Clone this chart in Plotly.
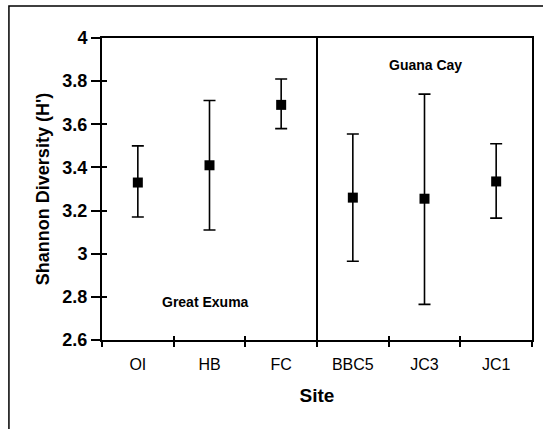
import plotly.graph_objects as go

sites = ["OI", "HB", "FC", "BBC5", "JC3", "JC1"]
mean_h = [3.33, 3.41, 3.69, 3.26, 3.255, 3.335]
upper_h = [3.50, 3.71, 3.81, 3.555, 3.74, 3.51]
lower_h = [3.17, 3.11, 3.58, 2.965, 2.765, 3.165]

err_plus = [u - m for u, m in zip(upper_h, mean_h)]
err_minus = [m - l for m, l in zip(mean_h, lower_h)]

y_ticks = [2.6, 2.8, 3.0, 3.2, 3.4, 3.6, 3.8, 4.0]
y_tick_text = ["2.6", "2.8", "3", "3.2", "3.4", "3.6", "3.8", "4"]
boundaries = [0.5, 1.5, 2.5, 3.5, 4.5]

fig = go.Figure()
fig.add_trace(go.Scatter(
    x=sites, y=mean_h, mode="markers",
    marker=dict(symbol="square", size=10, color="black"),
    error_y=dict(type="data", symmetric=False, array=err_plus, arrayminus=err_minus,
                 color="black", thickness=1.6, width=6),
    showlegend=False,
))
# invisible trace to carry the inner tick axes
fig.add_trace(go.Scatter(x=[-0.5, 5.5], y=[2.6, 4.0], xaxis="x2", yaxis="y2",
                         mode="markers", marker=dict(opacity=0), showlegend=False,
                         hoverinfo="skip"))

fig.update_layout(
    width=543, height=429,
    margin=dict(l=102, r=9, t=38, b=89),
    paper_bgcolor="white", plot_bgcolor="white",
    font=dict(family="Liberation Sans, Arial, sans-serif", color="black"),
    xaxis=dict(
        type="category", range=[-0.5, 5.5], tickson="boundaries",
        ticks="outside", ticklen=5, tickwidth=1.5, tickcolor="black",
        showline=True, linewidth=2, linecolor="black", mirror=True,
        showgrid=False, zeroline=False, ticklabelstandoff=9,
        tickfont=dict(size=16, family="Liberation Sans, Arial"),
        title=dict(text="<b>Site</b>", font=dict(size=19), standoff=16),
    ),
    xaxis2=dict(
        overlaying="x", range=[-0.5, 5.5], tickvals=boundaries,
        ticks="inside", ticklen=4, tickwidth=1.5, tickcolor="black",
        showticklabels=False, showgrid=False, zeroline=False, showline=False,
    ),
    yaxis=dict(
        range=[2.6, 4.0], tickvals=y_ticks,
        ticktext=["<b>%s</b>" % t for t in y_tick_text],
        ticks="outside", ticklen=9, tickwidth=1.5, tickcolor="black",
        showline=True, linewidth=2, linecolor="black", mirror=True,
        showgrid=False, zeroline=False,
        tickfont=dict(size=18, family="Liberation Sans, Arial"),
        title=dict(text="<b>Shannon Diversity (H')</b>", font=dict(size=18), standoff=8),
    ),
    yaxis2=dict(
        overlaying="y", range=[2.6, 4.0], tickvals=y_ticks,
        ticks="inside", ticklen=5, tickwidth=1.5, tickcolor="black",
        showticklabels=False, showgrid=False, zeroline=False, showline=False,
    ),
)

# divider between the two islands
fig.add_shape(type="line", xref="x", yref="y", x0=2.5, x1=2.5, y0=2.6, y1=4.0,
              line=dict(color="black", width=2))

# outer frame
fig.add_shape(type="rect", xref="paper", yref="paper",
              x0=(8.5 - 102) / 432, x1=1.2, y0=-0.35, y1=(340 - 6) / 302,
              line=dict(color="black", width=1.5), layer="below")

fig.add_annotation(x=0.95, y=2.776, xref="x", yref="y", text="<b>Great Exuma</b>",
                   showarrow=False, font=dict(size=14))
fig.add_annotation(x=4.02, y=3.876, xref="x", yref="y", text="<b>Guana Cay</b>",
                   showarrow=False, font=dict(size=14))

fig.write_html("out.html")
